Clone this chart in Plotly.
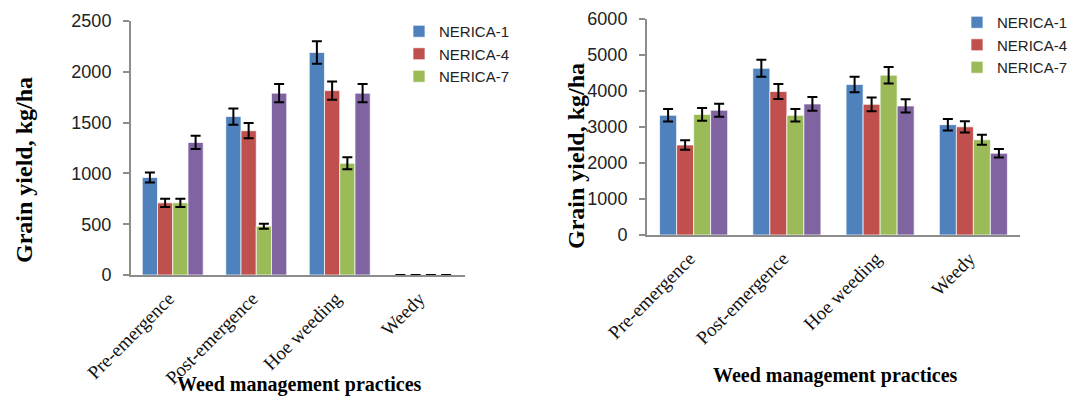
import plotly.graph_objects as go

categories = ["Pre-emergence", "Post-emergence", "Hoe weeding", "Weedy"]
series_names = ["NERICA-1", "NERICA-4", "NERICA-7", "Series4"]
colors = ["#4F81BD", "#C0504D", "#9BBB59", "#8064A2"]

# Left chart values (kg/ha) and error bars
left_n1 = [960, 1560, 2190, 0]
left_n4 = [710, 1420, 1815, 0]
left_n7 = [710, 480, 1100, 0]
left_s4 = [1305, 1790, 1790, 0]
left_n1_err = [50, 80, 110, 0]
left_n4_err = [40, 75, 90, 0]
left_n7_err = [40, 25, 60, 0]
left_s4_err = [65, 90, 90, 0]

# Right chart values (kg/ha) and error bars
right_n1 = [3325, 4630, 4180, 3065]
right_n4 = [2500, 3985, 3630, 3005]
right_n7 = [3350, 3325, 4440, 2645]
right_s4 = [3465, 3640, 3585, 2270]
right_n1_err = [175, 235, 215, 160]
right_n4_err = [130, 210, 190, 155]
right_n7_err = [175, 175, 230, 140]
right_s4_err = [180, 190, 185, 120]

left_vals = [left_n1, left_n4, left_n7, left_s4]
left_errs = [left_n1_err, left_n4_err, left_n7_err, left_s4_err]
right_vals = [right_n1, right_n4, right_n7, right_s4]
right_errs = [right_n1_err, right_n4_err, right_n7_err, right_s4_err]

W, H = 1069, 398
fig = go.Figure()

for i in range(4):
    fig.add_trace(go.Bar(
        x=categories, y=left_vals[i], name=series_names[i],
        marker=dict(color=colors[i], line=dict(color="rgba(255,255,255,0.7)", width=1)),
        error_y=dict(type="data", array=left_errs[i], color="black", thickness=2, width=5),
        xaxis="x", yaxis="y", legend="legend", showlegend=(i < 3),
    ))
for i in range(4):
    fig.add_trace(go.Bar(
        x=categories, y=right_vals[i], name=series_names[i],
        marker=dict(color=colors[i], line=dict(color="rgba(255,255,255,0.7)", width=1)),
        error_y=dict(type="data", array=right_errs[i], color="black", thickness=2, width=5),
        xaxis="x2", yaxis="y2", legend="legend2", showlegend=(i < 3),
    ))

tickfont = dict(family="Liberation Sans, Arial", size=18, color="#222")
catfont = dict(family="Liberation Serif, Times New Roman", size=19, color="#111")
axcol = "#8c8c8c"

def yax(domain, rng, dtick, anchor):
    return dict(domain=domain, range=rng, dtick=dtick, showgrid=False, zeroline=False,
                showline=True, linecolor=axcol, linewidth=2, ticks="outside", ticklen=6,
                tickcolor=axcol, tickwidth=1.5, tickfont=tickfont, anchor=anchor,
                ticklabelstandoff=8, fixedrange=True, automargin=False)

def xax(domain, anchor):
    return dict(domain=domain, showgrid=False, zeroline=False, showline=True, linecolor=axcol,
                linewidth=2, ticks="", tickangle=-45, tickfont=catfont, anchor=anchor,
                ticklabelshift=-4, ticklabelstandoff=3,
                fixedrange=True, automargin=False)

legfont = dict(family="Liberation Sans, Arial", size=15, color="#222")
fig.update_layout(
    width=W, height=H,
    margin=dict(l=0, r=0, t=0, b=0, autoexpand=False),
    paper_bgcolor="white", plot_bgcolor="white",
    barmode="group", bargap=0.27, bargroupgap=0,
    xaxis=xax([131 / W, 465 / W], "y"),
    yaxis=yax([1 - 275 / H, 1 - 21 / H], [0, 2500], 500, "x"),
    xaxis2=xax([647 / W, 1020 / W], "y2"),
    yaxis2=yax([1 - 235 / H, 1 - 19 / H], [0, 6000], 1000, "x2"),
    legend=dict(x=399 / W, y=1 - 15 / H, xanchor="left", yanchor="top", font=legfont,
                bgcolor="rgba(0,0,0,0)", itemwidth=30, tracegroupgap=0),
    legend2=dict(x=957 / W, y=1 - 6 / H, xanchor="left", yanchor="top", font=legfont,
                 bgcolor="rgba(0,0,0,0)", itemwidth=30, tracegroupgap=0),
    showlegend=True,
)

titlefont_y = dict(family="Liberation Serif, Times New Roman", size=24, color="black")
titlefont_x = dict(family="Liberation Serif, Times New Roman", size=20, color="black")
ann = dict(xref="paper", yref="paper", showarrow=False, xanchor="center", yanchor="middle")
fig.add_annotation(text="<b>Grain yield, kg/ha</b>", x=24 / W, y=1 - 170 / H,
                   textangle=-90, font=titlefont_y, **ann)
fig.add_annotation(text="<b>Grain yield, kg/ha</b>", x=576 / W, y=1 - 156 / H,
                   textangle=-90, font=titlefont_y, **ann)
fig.add_annotation(text="<b>Weed management practices</b>", x=299 / W, y=1 - 384 / H,
                   font=titlefont_x, **ann)
fig.add_annotation(text="<b>Weed management practices</b>", x=835 / W, y=1 - 375 / H,
                   font=titlefont_x, **ann)

fig.write_html("out.html", config={"displayModeBar": False},
               post_script="document.body.style.margin='0';document.body.style.padding='0';")
